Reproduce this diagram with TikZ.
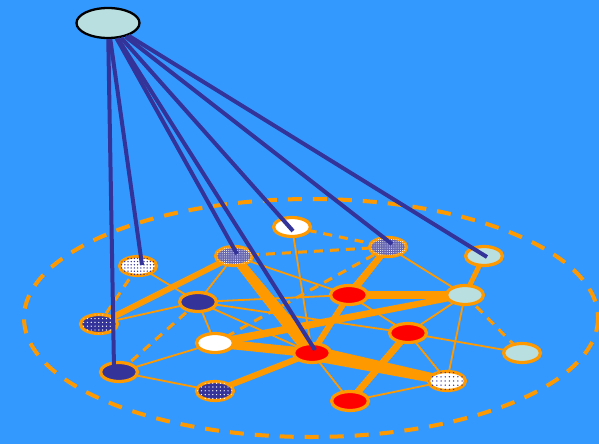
\documentclass[tikz,border=0pt]{standalone}
\usetikzlibrary{shapes.geometric,patterns.meta,calc}
\definecolor{bgblue}{HTML}{3399FF}
\definecolor{org}{HTML}{FF9900}
\definecolor{dblue}{HTML}{333399}
\definecolor{lcyan}{HTML}{B9DFE0}
\definecolor{nodered}{HTML}{FF0000}
\pgfdeclarelayer{back}
\pgfdeclarelayer{fore}
\pgfsetlayers{back,main,fore}
\newcommand\tapedge[4]{\fill[org] ($(#1.center)!#3!90:(#2.center)$) -- ($(#1.center)!#3!-90:(#2.center)$) -- ($(#2.center)!#4!90:(#1.center)$) -- ($(#2.center)!#4!-90:(#1.center)$) -- cycle;}
\begin{document}
\begin{tikzpicture}[x=1pt,y=-1pt,
  nd/.style={ellipse,draw=org,line width=3.2pt,minimum width=37pt,minimum height=19pt,inner sep=0pt},
  rednd/.style={nd,fill=nodered},
  cyannd/.style={nd,fill=lcyan},
  whitend/.style={nd,fill=white},
  solidnd/.style={nd,fill=dblue},
  dotnd/.style={nd,fill=white,postaction={pattern={Dots[distance=3.2pt,radius=0.75pt]},pattern color=dblue}},
  sparsend/.style={nd,fill=white,postaction={pattern={Dots[distance=4.2pt,radius=0.75pt]},pattern color=dblue}},
  chknd/.style={nd,fill=dblue!75!white,postaction={pattern={Dots[distance=2.2pt,radius=0.5pt]},pattern color=white}},
  bdotnd/.style={nd,fill=dblue,postaction={pattern={Dots[distance=3.8pt,radius=0.7pt]},pattern color=white}},
  topnd/.style={ellipse,draw=black,line width=2.3pt,fill=lcyan,minimum width=63pt,minimum height=30pt,inner sep=0pt},
  thinlink/.style={draw=org,line width=1.8pt},
  dashlink/.style={draw=org,line width=3pt,dash pattern=on 9pt off 7pt},
  bigdash/.style={draw=org,line width=4pt,dash pattern=on 14pt off 11pt},
  thicklink/.style={draw=org,line width=#1},
  bluelink/.style={draw=dblue,line width=4pt}
]
\useasboundingbox (0,0) rectangle (599,444);
\begin{pgfonlayer}{back}
\fill[bgblue] (0,0) rectangle (599,444);
\end{pgfonlayer}

\node[topnd] (top) at (108,23) {};
\node[dotnd] (A) at (138,266) {};
\node[chknd] (B) at (234,256) {};
\node[whitend] (C) at (292,227) {};
\node[chknd] (D) at (388,247) {};
\node[cyannd] (E) at (484,256) {};
\node[bdotnd] (F) at (99,324) {};
\node[solidnd] (G) at (198,302) {};
\node[rednd] (H) at (349,295) {};
\node[cyannd] (I) at (465,295) {};
\node[whitend] (J) at (215,343) {};
\node[rednd] (K) at (408,333) {};
\node[rednd] (L) at (312,353) {};
\node[solidnd] (M) at (119,372) {};
\node[bdotnd] (N) at (215,391) {};
\node[sparsend] (O) at (447,381) {};
\node[rednd] (P) at (350,401) {};
\node[cyannd] (Q) at (522,353) {};

\begin{pgfonlayer}{back}
\coordinate (ec) at (311,318);
\draw[bigdash] (ec) ellipse [x radius=287, y radius=119];
% dashed inner links
\draw[dashlink] (A.center) -- (F.center);
\draw[dashlink] (G.center) -- (M.center);
\draw[dashlink] (D.center) -- (J.center);
\draw[dashlink] (C.center) -- (D.center);
\draw[dashlink] (B.center) -- (D.center);
\draw[dashlink] (I.center) -- (Q.center);
% thin links
\draw[thinlink] (A.center) -- (G.center);
\draw[thinlink] (F.center) -- (G.center);
\draw[thinlink] (B.center) -- (G.center);
\draw[thinlink] (B.center) -- (H.center);
\draw[thinlink] (G.center) -- (H.center);
\draw[thinlink] (G.center) -- (K.center);
\draw[thinlink] (G.center) -- (L.center);
\draw[thinlink] (G.center) -- (J.center);
\draw[thinlink] (C.center) -- (L.center);
\draw[thinlink] (D.center) -- (I.center);
\draw[thinlink] (J.center) -- (M.center);
\draw[thinlink] (M.center) -- (N.center);
\draw[thinlink] (L.center) -- (P.center);
\draw[thinlink] (H.center) -- (K.center);
\draw[thinlink] (K.center) -- (I.center);
\draw[thinlink] (K.center) -- (Q.center);
\draw[thinlink] (K.center) -- (O.center);
\draw[thinlink] (I.center) -- (O.center);
\draw[thinlink] (P.center) -- (O.center);
% thick links
\draw[thicklink=6pt] (F.center) -- (B.center);
\draw[thicklink=8pt] (H.center) -- (I.center);
\draw[thicklink=6pt] (H.center) -- (L.center);
\draw[thicklink=6pt] (N.center) -- (L.center);
\draw[thicklink=7pt] (K.center) -- (P.center);
\draw[thicklink=5pt] (E.center) -- (I.center);
\draw[thicklink=9pt] (J.center) -- (L.center);
\tapedge{B}{L}{4.5pt}{7pt}
\tapedge{L}{O}{7.5pt}{4.5pt}
\tapedge{J}{I}{4pt}{3pt}
\tapedge{D}{H}{3pt}{4pt}
\end{pgfonlayer}

\begin{pgfonlayer}{fore}
\draw[bluelink] (top) -- ($(M.center)+(-5,-3)$);
\draw[bluelink] (top) -- ($(A.center)+(4,-1)$);
\draw[bluelink] (top) -- ($(B.center)+(3,-2)$);
\draw[bluelink] (top) -- ($(L.center)+(3,-3)$);
\draw[bluelink] (top) -- ($(C.center)+(1,4)$);
\draw[bluelink] (top) -- ($(D.center)+(4,-3)$);
\draw[bluelink] (top) -- ($(E.center)+(3,1)$);
\end{pgfonlayer}
\end{tikzpicture}
\end{document}
